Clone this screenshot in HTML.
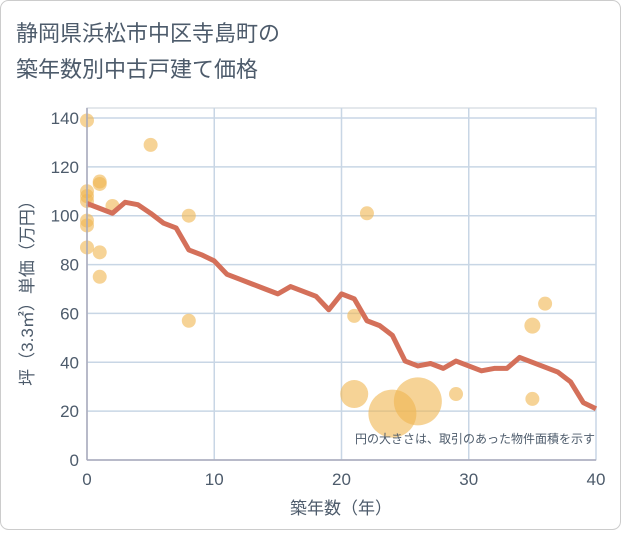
<!DOCTYPE html>
<html><head><meta charset="utf-8"><style>
body{margin:0;background:#fff}
svg{font-family:"Liberation Sans","Noto Sans CJK JP",sans-serif}
</style></head><body>
<svg width="621" height="530" viewBox="0 0 621 530">
<rect x="0.5" y="0.5" width="620" height="529" rx="8" fill="#fff" stroke="#ccc"/>
<text x="16" y="41" font-size="22" fill="#4d5b6b">静岡県浜松市中区寺島町の</text>
<text x="16" y="77" font-size="22" fill="#4d5b6b">築年数別中古戸建て価格</text>
<g id="grid"></g>
<g id="scatter"></g>
<g id="line"></g>
<g id="axes"></g>
<text x="595" y="443" font-size="12" fill="#4d5b6b" text-anchor="end">円の大きさは、取引のあった物件面積を示す</text>
<text x="341" y="514" font-size="17" fill="#4d5b6b" text-anchor="middle">築年数（年）</text>
<text transform="translate(33,289) rotate(-90)" font-size="17" fill="#4d5b6b" text-anchor="middle">坪（3.3㎡）単価（万円）</text>
</svg>
<script>
const xTicks=[0,10,20,30,40];
const yTicks=[0,20,40,60,80,100,120,140];
const lineYears=[0,1,2,3,4,5,6,7,8,9,10,11,12,13,14,15,16,17,18,19,20,21,22,23,24,25,26,27,28,29,30,31,32,33,34,35,36,37,38,39,40];
const linePrices=[105,103,101,105.5,104.5,101,97,95,86,84,81.5,76,74,72,70,68,71,69,67,61.5,68,66,57,55,51,40.5,38.5,39.5,37.5,40.5,38.5,36.5,37.5,37.5,42,40,38,36,32,23.5,21];
const ptYears=[0,5,0,0,0,1,1,2,0,0,8,0,1,1,8,22,21,21,24,26,29,35,36,35];
const ptPrices=[139,129,110,108,106,114,113,104,98,96,100,87,85,75,57,101,59,27,19,24,27,55,64,25];
const ptSizes=[7,7,7,7,7,7,7,7,7,7,7,7,7,7,7,7,7,14,24,24,7,8,7,7];
const NS="http://www.w3.org/2000/svg";
const X0=87,X1=596,Y0=460,Y1=118;
const sx=v=>X0+(v-0)/(40-0)*(X1-X0);
const sy=v=>Y0-(v-0)/(140-0)*(Y0-Y1);
function mk(t,a,p){const e=document.createElementNS(NS,t);for(const k in a)e.setAttribute(k,a[k]);p.appendChild(e);return e;}
const grid=document.getElementById('grid'),axes=document.getElementById('axes');
mk('rect',{x:X0,y:108,width:X1-X0,height:Y0-108,fill:'none',stroke:'#c8d0d8'},grid);
yTicks.forEach(v=>{const l=mk('line',{x1:X0,x2:X1,y1:sy(v),y2:sy(v),stroke:'#c8d6e5','stroke-width':1.5},grid);

const t=mk('text',{x:X0-8,y:sy(v)+6,'font-size':17,fill:'#4d5b6b','text-anchor':'end'},axes);t.textContent=v;
});
xTicks.forEach(v=>{const l=mk('line',{x1:sx(v),x2:sx(v),y1:108,y2:Y0,stroke:'#c8d6e5','stroke-width':1.5},grid);

const t=mk('text',{x:sx(v),y:Y0+25,'font-size':17,fill:'#4d5b6b','text-anchor':'middle'},axes);t.textContent=v;
});
mk('line',{x1:X0,x2:X1,y1:Y0,y2:Y0,stroke:'#aab','stroke-width':1.5},axes);
mk('line',{x1:X0,x2:X0,y1:108,y2:Y0,stroke:'#aab','stroke-width':1.5},axes);
const sc=document.getElementById('scatter');
ptYears.forEach((v,i)=>{const c=mk('circle',{cx:sx(v),cy:sy(ptPrices[i]),r:ptSizes[i],fill:'#f0b550','fill-opacity':0.6},sc);
});
const p=mk('polyline',{points:lineYears.map((v,i)=>sx(v)+','+sy(linePrices[i])).join(' '),fill:'none',stroke:'#d4705a','stroke-width':5,'stroke-linejoin':'round'},document.getElementById('line'));

</script>
</body></html>
